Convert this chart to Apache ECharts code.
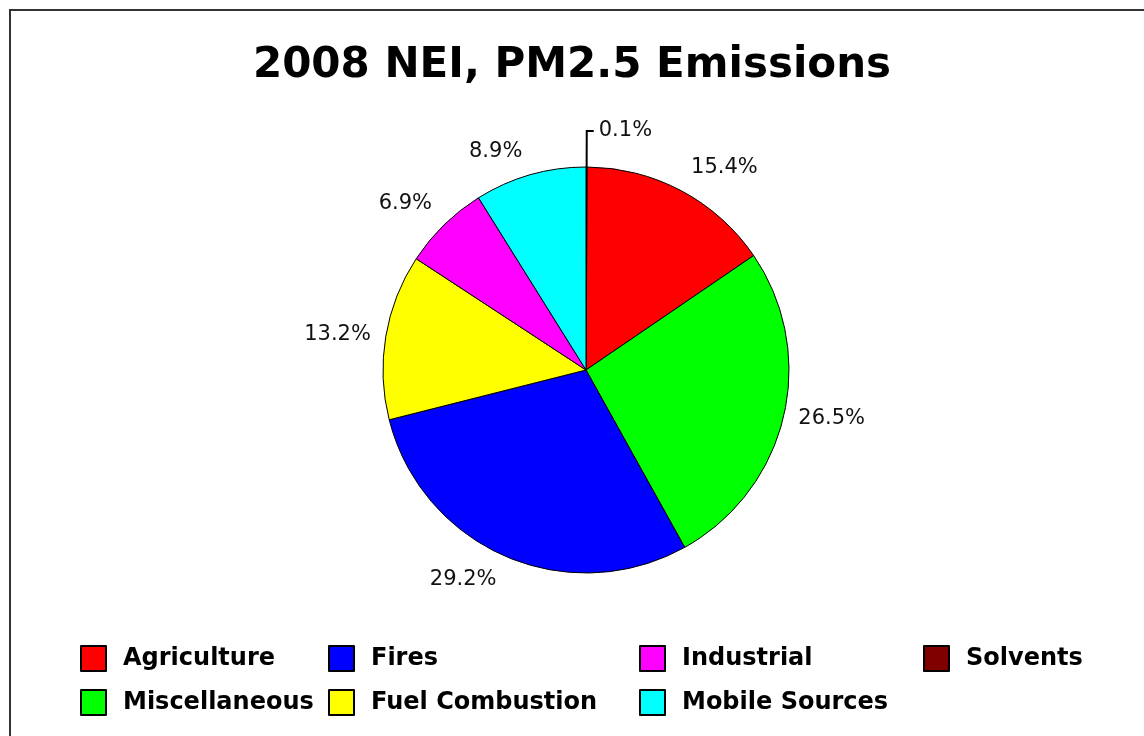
<!DOCTYPE html>
<html lang="en">
<head>
  <meta charset="UTF-8">
  <title>2008 NEI, PM2.5 Emissions</title>
  <style>
    html, body { margin: 0; padding: 0; background: #fff; }
    #chart { width: 1144px; height: 736px; }
  </style>
</head>
<body>
  <div id="chart"></div>
  <script src="https://cdn.jsdelivr.net/npm/echarts@6/dist/echarts.min.js"></script>
  <script>
    // slice order clockwise from 12 o'clock (Solvents is the sliver at the top)
    const sectors = ['Solvents', 'Agriculture', 'Miscellaneous', 'Fires', 'Fuel Combustion', 'Industrial', 'Mobile Sources'];
    const shares = [0.1, 15.4, 26.5, 29.2, 13.2, 6.9, 8.9];
    const colors = ['#800000', '#ff0000', '#00ff00', '#0000ff', '#ffff00', '#ff00ff', '#00ffff'];

    // legend columns as laid out under the pie
    const legendCols = [
      ['Agriculture', 'Miscellaneous'],
      ['Fires', 'Fuel Combustion'],
      ['Industrial', 'Mobile Sources'],
      ['Solvents']
    ];
    const legendLeft = [80, 328, 639, 923];

    const chart = echarts.init(document.getElementById('chart'));

    const pct = v => v.toFixed(1) + '%';
    const total = shares.reduce((a, b) => a + b, 0);
    let acc = 0;
    const pieData = sectors.map((name, i) => {
      // mid angle of the slice, measured from 12 o'clock
      const mid = (acc + shares[i] / 2) / total * 2 * Math.PI;
      acc += shares[i];
      const c = Math.cos(mid);
      // labels above/below the pie sit off the rim vertically (blank line pushes them)
      let fmt = p => pct(p.value);
      if (name !== 'Solvents') {
        if (c > 0.5) fmt = p => pct(p.value) + '\n ';
        else if (c < -0.5) fmt = p => ' \n' + pct(p.value);
      }
      const item = {
        name: name,
        value: shares[i],
        itemStyle: { color: colors[i] },
        label: { formatter: fmt }
      };
      if (name === 'Solvents') {
        item.labelLine = { show: true, length: 36, length2: 7, lineStyle: { color: '#000', width: 2 } };
      }
      return item;
    });

    const legends = legendCols.map((names, i) => ({
      data: names,
      orient: 'vertical',
      left: legendLeft[i],
      top: 645,
      padding: 0,
      itemWidth: 25,
      itemHeight: 25,
      itemGap: 17,
      icon: 'rect',
      selectedMode: false,
      itemStyle: { borderColor: '#000', borderWidth: 2 },
      textStyle: {
        fontFamily: 'DejaVu Sans',
        fontWeight: 'bold',
        fontSize: 24,
        color: '#000',
        padding: [0, 0, 0, 12]
      }
    }));

    const option = {
      backgroundColor: '#fff',
      animation: false,
      title: {
        text: '2008 NEI, PM2.5 Emissions',
        left: 'center',
        top: 45,
        padding: 0,
        textStyle: {
          fontFamily: 'DejaVu Sans',
          fontWeight: 'bold',
          fontSize: 42,
          color: '#000'
        }
      },
      legend: legends,
      graphic: [{
        type: 'rect',
        shape: { x: 10, y: 10, width: 1300, height: 900 },
        style: { fill: 'none', stroke: '#333', lineWidth: 2 },
        silent: true
      }],
      series: [{
        type: 'pie',
        center: [586, 370],
        radius: 203,
        startAngle: 90,
        clockwise: true,
        avoidLabelOverlap: false,
        itemStyle: { borderColor: '#000', borderWidth: 1 },
        label: {
          show: true,
          position: 'outside',
          fontFamily: 'DejaVu Sans',
          fontSize: 21,
          lineHeight: 28,
          color: '#111'
        },
        labelLine: { show: false, length: 10, length2: 0 },
        emphasis: { disabled: true },
        data: pieData
      }]
    };

    chart.setOption(option);
  </script>
</body>
</html>
